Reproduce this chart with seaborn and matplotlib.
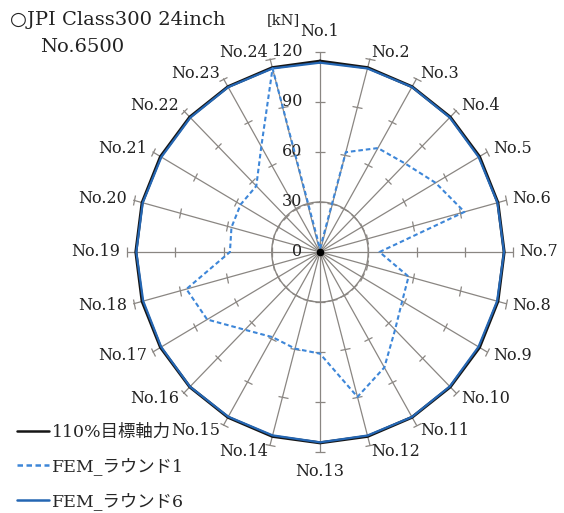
import numpy as np
import matplotlib
matplotlib.use("Agg")
import matplotlib.pyplot as plt
from matplotlib.markers import MarkerStyle
from matplotlib.transforms import Affine2D, offset_copy
from matplotlib.lines import Line2D
import seaborn as sns

# ---- data -------------------------------------------------------------
bolts = [f"No.{i}" for i in range(1, 25)]
target_110 = [114.5] * 24
fem_round1 = [2, 62, 72, 75, 83, 93, 37, 57, 59, 66, 80, 90,
              61, 60, 59, 66, 81, 86, 56, 57, 57, 56, 73, 114]
fem_round6 = [113.6, 114.0, 114.3, 114.1, 113.9, 114.2, 114.4, 114.0,
              113.8, 114.1, 114.3, 114.0, 114.2, 113.9, 114.1, 114.3,
              114.0, 113.8, 114.2, 114.1, 113.9, 114.0, 114.2, 114.0]
r_ticks = [0, 30, 60, 90, 120]
series_labels = ["110%目標軸力", "FEM_ラウンド1", "FEM_ラウンド6"]

# ---- style ------------------------------------------------------------
sns.set_style("white")
fam = ["DejaVu Serif", "DejaVu Sans", "Noto Sans CJK JP"]
plt.rcParams["font.family"] = fam

grid_c = "#8a8682"
black_c = "#151515"
dash_c = "#3d86d8"
solid_c = "#2466b3"
text_c = "#222222"

fig = plt.figure(figsize=(5.64, 5.13), dpi=100)
W, H = 564, 513
cx, cy = 320, 252          # centre in pixels (from top-left)
ry, rx = 200, 193          # pixel radius of the 120 kN ring
ax = fig.add_axes([(cx - rx) / W, (H - cy - ry) / H, 2 * rx / W, 2 * ry / H],
                  projection="polar")
ax.set_aspect("auto")
ax.set_theta_zero_location("N")
ax.set_theta_direction(-1)
ax.set_ylim(0, 120)
ax.set_xticks([])
ax.set_yticks([30])
ax.set_yticklabels([])
ax.yaxis.grid(True, color=grid_c, lw=1.0)
ax.spines["polar"].set_visible(False)
ax.patch.set_alpha(0)

n = len(bolts)
theta = np.arange(n) * 2 * np.pi / n
theta_deg = np.degrees(theta)

# spokes with tick marks
for t, td in zip(theta, theta_deg):
    ax.plot([t, t], [0, r_ticks[-1]], color=grid_c, lw=0.9, clip_on=False, zorder=1)
    mk = MarkerStyle("|", transform=Affine2D().rotate_deg(90 - td))
    ax.plot([t] * 4, r_ticks[1:], linestyle="none", marker=mk, ms=7,
            mew=0.9, color=grid_c, clip_on=False, zorder=1)

# closed polygons
def closed(vals):
    return np.append(theta, theta[0]), np.append(vals, vals[0])

tx, ty = closed(target_110)
sns.lineplot(x=tx, y=ty, ax=ax, sort=False, estimator=None, color=black_c,
             lw=2.2, zorder=3, clip_on=False)
t6x, t6y = closed(fem_round6)
sns.lineplot(x=t6x, y=t6y, ax=ax, sort=False, estimator=None, color=solid_c,
             lw=1.6, zorder=4, clip_on=False)
t1x, t1y = closed(fem_round1)
sns.lineplot(x=t1x, y=t1y, ax=ax, sort=False, estimator=None, color=dash_c,
             lw=1.5, linestyle=(0, (2.2, 1.4)), zorder=5)

ax.plot([0], [0], "o", color="black", ms=4.5, zorder=6)

# spoke labels
for lab, t, td in zip(bolts, theta, theta_deg):
    s = np.sin(t)
    if abs(s) < 0.1:
        ha, rr = "center", 132
    else:
        ha, rr = ("left" if s > 0 else "right"), 124
    ax.text(t, rr, lab, ha=ha, va="center", fontsize=11.5, color=text_c,
            clip_on=False)

# radial value labels beside the top spoke
lab_tr = offset_copy(ax.transData, fig=fig, x=-18, y=0, units="dots")
for v in r_ticks:
    ax.text(0, v, str(v), transform=lab_tr, ha="right", va="center",
            fontsize=11.5, color=text_c)

fig.text(300 / W, 1 - 20 / H, "[kN]", ha="right", va="center", fontsize=10.5,
         color=text_c)
fig.text(10 / W, 1 - 20 / H, "○JPI Class300 24inch", ha="left", va="center",
         fontsize=14, color=text_c)
fig.text(40 / W, 1 - 47 / H, "No.6500", ha="left", va="center",
         fontsize=14, color=text_c)

handles = [Line2D([], [], color=black_c, lw=1.8),
           Line2D([], [], color=dash_c, lw=1.8, linestyle=(0, (2.2, 1.4))),
           Line2D([], [], color=solid_c, lw=1.8)]
fig.legend(handles, series_labels, loc="upper left",
           bbox_to_anchor=(17 / W, 1 - 424 / H), frameon=False,
           fontsize=12.5, handlelength=1.85, handletextpad=0.15,
           labelspacing=0.95, borderaxespad=0, borderpad=0)

fig.savefig("out.png", dpi=100)
